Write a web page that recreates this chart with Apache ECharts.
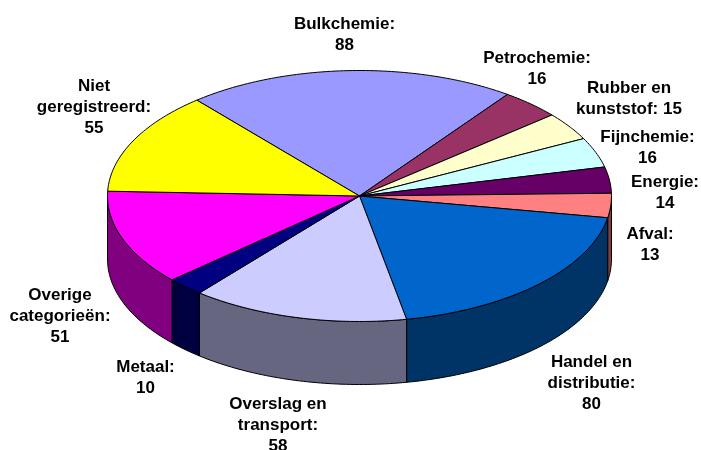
<!DOCTYPE html>
<html>
<head>
<meta charset="utf-8">
<style>
  html, body { margin: 0; padding: 0; background: #fff; }
  #chart { width: 701px; height: 450px; }
</style>
<script src="https://cdn.jsdelivr.net/npm/echarts@6/dist/echarts.min.js"></script>
</head>
<body>
<div id="chart"></div>
<script>
// data, clockwise from the first slice
const categories = ['Bulkchemie', 'Petrochemie', 'Rubber en\nkunststof', 'Fijnchemie', 'Energie', 'Afval',
    'Handel en\ndistributie', 'Overslag en\ntransport', 'Metaal', 'Overige\ncategorieën', 'Niet\ngeregistreerd'];
const values = [88, 16, 15, 16, 14, 13, 80, 58, 10, 51, 55];

const topColors = ['#9999FF', '#993366', '#FFFFCC', '#CCFFFF', '#660066', '#FF8080',
    '#0066CC', '#CCCCFF', '#000080', '#FF00FF', '#FFFF00'];
const sideColors = ['#4C4C80', '#4C1933', '#808066', '#668080', '#330033', '#804040',
    '#003366', '#666680', '#000040', '#800080', '#808000'];

// centre of each label block, same order as categories
const labelX = [344.5, 537, 629, 647.5, 665, 650, 591.5, 278, 145.5, 60, 94];
const labelY = [35, 68.5, 99, 147.5, 193, 245, 383.5, 425.5, 378, 316.5, 107];

// pie geometry
const cx = 359.5, cy = 196, rx = 252, ry = 125.5, depth = 63;
const firstAngle = -40.2;

const total = values.reduce((a, b) => a + b, 0);

function point(deg, dy) {
    const a = deg * Math.PI / 180;
    return [cx + rx * Math.sin(a), cy - ry * Math.cos(a) + dy];
}

function arc(from, to, dy) {
    const pts = [];
    const n = Math.max(2, Math.ceil(Math.abs(to - from)));
    for (let i = 0; i <= n; i++) {
        pts.push(point(from + (to - from) * i / n, dy));
    }
    return pts;
}

function labelText(i) {
    // "Rubber en kunststof" keeps its value on the last line
    const sep = i === 2 ? ' ' : '\n';
    return categories[i] + ':' + sep + values[i];
}

function renderSlice(params, api) {
    const i = params.dataIndex;
    let start = firstAngle;
    for (let k = 0; k < i; k++) {
        start += values[k] / total * 360;
    }
    const end = start + api.value(0) / total * 360;
    const children = [];

    // front wall, only the part facing the viewer
    const wallFrom = Math.max(start, 90), wallTo = Math.min(end, 270);
    if (wallTo > wallFrom) {
        children.push({
            type: 'polygon',
            shape: { points: arc(wallFrom, wallTo, 0).concat(arc(wallTo, wallFrom, depth)) },
            style: { fill: sideColors[i], stroke: '#000', lineWidth: 1 },
            z2: 1
        });
    }
    children.push({
        type: 'polygon',
        shape: { points: [[cx, cy]].concat(arc(start, end, 0)) },
        style: { fill: topColors[i], stroke: '#000', lineWidth: 1 },
        z2: 2
    });
    children.push({
        type: 'text',
        style: {
            text: labelText(i),
            x: labelX[i],
            y: labelY[i],
            align: 'center',
            verticalAlign: 'middle',
            fill: '#000',
            font: 'bold 17px "Liberation Sans", Arial, sans-serif',
            lineHeight: 21
        },
        z2: 3
    });
    return { type: 'group', children: children };
}

const chart = echarts.init(document.getElementById('chart'));
chart.setOption({
    animation: false,
    backgroundColor: '#fff',
    series: [{
        type: 'custom',
        coordinateSystem: 'none',
        silent: true,
        data: values,
        renderItem: renderSlice
    }]
});
</script>
</body>
</html>
